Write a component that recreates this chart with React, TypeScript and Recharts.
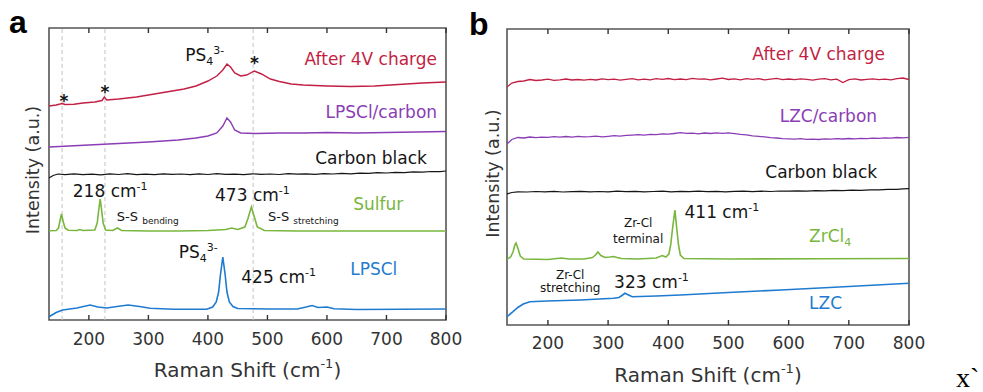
import React from "react";
import { LineChart, Line, XAxis, YAxis, ReferenceLine, ReferenceDot, ReferenceArea } from "recharts";

type Pt = [number, number];
type Note = {
  x: number;
  y: number;
  text: string;
  sub?: string;
  sup?: string;
  color: string;
  size?: number;
  subSize?: number;
  bold?: boolean;
  anchor?: "start" | "middle" | "end";
};

const RED = "#c21f45";
const PURPLE = "#8a3db5";
const INK = "#151515";
const GREEN = "#78b63e";
const BLUE = "#1f7bcf";
const BOX = "#555";

const TICKS = [200, 300, 400, 500, 600, 700, 800];
const DOMAIN_A: [number, number] = [133, 800];
const DOMAIN_B: [number, number] = [132, 800];
const DASH_A = [155, 227, 476];

// panel a – Raman spectra (a.u., stacked)
const A_CHARGED: Pt[] = [
  [133, 214], [145, 215], [155, 216.5], [160, 215.5], [175, 215.8], [190, 217], [210, 218], [222, 219.5],
  [226, 223], [230, 220], [250, 221], [280, 223], [300, 225], [330, 228], [360, 231], [380, 234],
  [400, 239], [415, 244], [425, 250], [432, 256], [438, 253], [445, 247], [455, 244], [465, 245],
  [478, 249], [490, 246], [505, 241], [520, 238.5], [540, 236], [560, 235], [600, 234], [640, 233.5],
  [680, 234], [720, 235.5], [760, 237], [800, 238],
];
const A_LPSCL_C: Pt[] = [
  [133, 173], [150, 173.5], [200, 175], [250, 176.5], [300, 178], [350, 180], [380, 182], [400, 184],
  [415, 187], [425, 194], [432, 202], [438, 198], [445, 190], [455, 187], [480, 186.5], [520, 187],
  [560, 187], [600, 187.5], [650, 187], [700, 187.5], [750, 188], [800, 188.5],
];
const A_CARBON: Pt[] = [
  [133, 142], [140, 144.5], [148, 146], [160, 145.3], [175, 146.2], [190, 145.4], [205, 145.9], [220, 145.2],
  [235, 146.1], [250, 145.5], [265, 146.3], [280, 145.4], [295, 145.9], [310, 145.3], [325, 146.2], [340, 145.6],
  [355, 146], [370, 145.3], [385, 146.1], [400, 145.5], [415, 146.3], [430, 145.6], [445, 145.9], [460, 145.4],
  [475, 146.2], [490, 145.7], [505, 146], [520, 145.5], [535, 146.3], [550, 145.8], [565, 146.1], [580, 145.6],
  [595, 146.3], [610, 146], [625, 146.6], [640, 146.2], [655, 146.9], [670, 146.7], [685, 147.3], [700, 147],
  [715, 147.6], [730, 147.4], [745, 148.1], [760, 147.9], [775, 148.5], [790, 148.4], [800, 149],
];
const A_SULFUR: Pt[] = [
  [133, 89.3], [145, 89.5], [149, 92], [151, 98], [154, 106], [157, 98], [160, 92], [165, 89.8],
  [180, 89.5], [185, 90.5], [190, 89.5], [210, 90], [214, 97], [217, 112], [219, 121], [221, 112],
  [224, 97], [228, 90], [240, 89.5], [248, 92], [255, 89.5], [300, 89], [350, 89], [400, 89.5],
  [430, 90.5], [440, 92], [450, 90.5], [462, 93], [467, 101], [473, 113], [478, 103], [483, 93],
  [495, 89.5], [550, 89], [650, 89], [800, 89],
];
const A_LPSCL: Pt[] = [
  [133, 3.3], [145, 7.5], [156, 10], [180, 12], [202, 15], [215, 13], [230, 12], [250, 13.8],
  [266, 15], [285, 13.5], [303, 11.7], [342, 10.7], [398, 10.7], [408, 13], [414, 18], [418, 28],
  [421, 45], [425, 63], [429, 45], [432, 28], [436, 18], [442, 13.5], [450, 11.5], [500, 11],
  [550, 11], [565, 13], [575, 14.5], [585, 12.5], [600, 13], [612, 11.3], [650, 10.5], [800, 11],
];

// panel b
const B_CHARGED: Pt[] = [
  [132, 238], [140, 242], [150, 243.5], [160, 244], [170, 245.5], [180, 244.5], [190, 245], [200, 245.8],
  [210, 244.6], [220, 245.2], [230, 246], [240, 245], [250, 245.5], [260, 244.8], [270, 245.6], [280, 245],
  [290, 246.2], [300, 245.3], [310, 245.8], [320, 244.9], [330, 245.7], [340, 246.3], [350, 245.2], [360, 245.9],
  [370, 245.1], [380, 246.4], [390, 245.6], [400, 246.5], [410, 245.4], [420, 246], [430, 245.3], [440, 246.6],
  [450, 245.8], [460, 246.2], [470, 245.1], [480, 246], [490, 246.8], [500, 245.5], [510, 246.1], [520, 245.2],
  [530, 246.3], [540, 245.7], [550, 246.4], [560, 245.1], [570, 245.9], [580, 246.6], [590, 245.4], [600, 246],
  [610, 245.3], [620, 246.2], [630, 245.6], [640, 244.9], [650, 245.8], [660, 246.3], [670, 245.2], [680, 245.9],
  [690, 242.5], [700, 245.4], [710, 246.1], [720, 245], [730, 245.7], [740, 246.2], [750, 245.4], [760, 245.9],
  [770, 245.1], [780, 246.3], [790, 247], [800, 245.5],
];
const B_LZC_C: Pt[] = [
  [132, 181], [140, 185.5], [150, 187.5], [160, 187], [170, 188], [180, 187.4], [190, 187.9], [200, 187.6],
  [210, 188.3], [220, 187.8], [230, 188.5], [240, 187.9], [250, 188.6], [260, 188.1], [270, 188.4], [280, 188.9],
  [290, 188.2], [300, 188.7], [310, 189.3], [320, 188.8], [330, 189.6], [340, 189.9], [350, 190.3], [360, 189.8],
  [370, 190.7], [380, 190.4], [390, 191.2], [400, 190.8], [410, 191.5], [420, 192.3], [430, 191.6], [440, 191.9],
  [450, 191.2], [460, 192], [470, 191.5], [480, 192.2], [490, 191.6], [500, 192.1], [510, 191.3], [520, 190.6],
  [530, 190.1], [540, 189.2], [550, 188.7], [560, 188.1], [570, 187.4], [580, 187], [590, 186.4], [600, 186.1],
  [610, 185.8], [620, 186.3], [630, 185.7], [640, 185.9], [650, 185.5], [660, 186.2], [670, 185.8], [680, 186.3],
  [690, 186], [700, 186.5], [710, 186.1], [720, 186.7], [730, 186.3], [740, 186.9], [750, 186.6], [760, 187.2],
  [770, 186.9], [780, 187.5], [790, 187.2], [800, 187.6],
];
const B_CARBON: Pt[] = [
  [132, 131], [140, 132.5], [150, 133.2], [165, 133], [180, 133.5], [195, 133.1], [210, 133.6], [225, 133],
  [240, 133.4], [255, 133.7], [270, 133.1], [285, 133.5], [300, 133.2], [315, 133.8], [330, 133.3], [345, 133.6],
  [360, 133.1], [375, 133.5], [390, 133.8], [405, 133.2], [420, 133.6], [435, 133.3], [450, 133.9], [465, 133.4],
  [480, 133.7], [495, 133.2], [510, 133.6], [525, 133.9], [540, 133.4], [555, 133.8], [570, 133.5], [585, 134],
  [600, 133.8], [615, 134.2], [630, 133.9], [645, 134.4], [660, 134.1], [675, 134.6], [690, 134.4], [705, 134.9],
  [720, 134.7], [735, 135.2], [750, 135.1], [765, 135.7], [780, 135.6], [790, 136.2], [800, 136.3],
];
const B_ZRCL4: Pt[] = [
  [132, 65.7], [138, 68], [142, 73], [145, 80], [147, 82], [150, 77], [154, 69], [160, 66],
  [200, 65.5], [215, 66.5], [222, 67], [235, 66], [260, 66], [274, 67.5], [279, 70], [283, 73],
  [288, 69.5], [295, 67.5], [303, 68], [309, 68.5], [315, 67.5], [322, 66.5], [350, 66], [380, 67],
  [390, 69.5], [396, 68], [401, 71], [404, 80], [407, 96], [411, 115], [414, 97], [417, 80],
  [420, 70], [426, 66.5], [500, 66], [650, 66.3], [800, 66.5],
];
const B_LZC: Pt[] = [
  [132, 8.3], [142, 13.3], [150, 17.5], [159, 21], [170, 23.3], [199, 24], [254, 25], [309, 26.7],
  [318, 27.5], [323, 29.5], [328, 31.7], [334, 30], [340, 28.3], [380, 29], [420, 30], [500, 32.5],
  [587, 35], [700, 38.5], [800, 41.7],
];

const A_NOTES: Note[] = [
  { x: 785, y: 255, text: "After 4V charge", color: RED, anchor: "end" },
  { x: 362, y: 259, text: "PS", sub: "4", sup: "3-", color: INK },
  { x: 158, y: 213, text: "*", color: INK, anchor: "middle", bold: true },
  { x: 227, y: 222, text: "*", color: INK, anchor: "middle", bold: true },
  { x: 478, y: 251, text: "*", color: INK, anchor: "middle", bold: true },
  { x: 785, y: 202, text: "LPSCl/carbon", color: PURPLE, anchor: "end" },
  { x: 768, y: 156, text: "Carbon black", color: INK, anchor: "end" },
  { x: 173, y: 123, text: "218 cm", sup: "-1", color: INK },
  { x: 412, y: 119, text: "473 cm", sup: "-1", color: INK },
  { x: 644, y: 110, text: "Sulfur", color: GREEN },
  { x: 247, y: 99, text: "S-S ", sub: "bending", color: INK, size: 13, subSize: 9 },
  { x: 501, y: 99, text: "S-S ", sub: "stretching", color: INK, size: 13, subSize: 9 },
  { x: 351, y: 62, text: "PS", sub: "4", sup: "3-", color: INK },
  { x: 456, y: 37, text: "425 cm", sup: "-1", color: INK },
  { x: 639, y: 45, text: "LPSCl", color: BLUE },
];

const B_NOTES: Note[] = [
  { x: 760, y: 265, text: "After 4V charge", color: RED, anchor: "end" },
  { x: 747, y: 203, text: "LZC/carbon", color: PURPLE, anchor: "end" },
  { x: 747, y: 147, text: "Carbon black", color: INK, anchor: "end" },
  { x: 427, y: 107, text: "411 cm", sup: "-1", color: INK },
  { x: 350, y: 98, text: "Zr-Cl", color: INK, size: 12, anchor: "middle" },
  { x: 350, y: 82, text: "terminal", color: INK, size: 12, anchor: "middle" },
  { x: 634, y: 83, text: "ZrCl", sub: "4", color: GREEN },
  { x: 237, y: 46, text: "Zr-Cl", color: INK, size: 12, anchor: "middle" },
  { x: 237, y: 33, text: "stretching", color: INK, size: 12, anchor: "middle" },
  { x: 310, y: 37, text: "323 cm", sup: "-1", color: INK },
  { x: 634, y: 16, text: "LZC", color: BLUE },
];

const toRows = (pts: Pt[]) => pts.map(([x, y]) => ({ x, y }));

function NoteText({ cx, cy, note }: { cx?: number; cy?: number; note: Note }) {
  const size = note.size ?? 17;
  const subSize = note.subSize ?? 11;
  const subDy = size * 0.22;
  const supRise = size * 0.42;
  return (
    <text
      x={cx}
      y={cy}
      fill={note.color}
      fontSize={size}
      fontWeight={note.bold ? "bold" : undefined}
      textAnchor={note.anchor ?? "start"}
    >
      <tspan>{note.text}</tspan>
      {note.sub && (
        <tspan fontSize={subSize} dy={subDy}>
          {note.sub}
        </tspan>
      )}
      {note.sup && (
        <tspan fontSize={11} dy={note.sub ? -(subDy + supRise) : -supRise}>
          {note.sup}
        </tspan>
      )}
    </text>
  );
}

function XTitle({ viewBox, dy }: any) {
  const { x, y, width } = viewBox;
  return (
    <text x={x + width / 2} y={y + dy} fill="#333" fontSize={20} textAnchor="middle">
      <tspan>Raman Shift (cm</tspan>
      <tspan fontSize={13} dy={-9}>-1</tspan>
      <tspan dy={9}>)</tspan>
    </text>
  );
}

function YTitle({ viewBox, dx, cy }: any) {
  const x = viewBox.x + dx;
  return (
    <text x={x} y={cy} fill="#333" fontSize={17.5} textAnchor="middle" transform={`rotate(-90 ${x} ${cy})`}>
      Intensity (a.u.)
    </text>
  );
}

const NoTick = () => <g />;

function Panel({
  left,
  width,
  margin,
  domain,
  yMax,
  series,
  notes,
  dashes,
  tickMargin,
  titleDy,
  yTitleDx,
  yTitleY,
}: {
  left: number;
  width: number;
  margin: { top: number; right: number; bottom: number; left: number };
  domain: [number, number];
  yMax: number;
  series: { pts: Pt[]; color: string; w: number }[];
  notes: Note[];
  dashes: number[];
  tickMargin: number;
  titleDy: number;
  yTitleDx: number;
  yTitleY: number;
}) {
  return (
    <div style={{ position: "absolute", left, top: 0 }}>
      <LineChart width={width} height={392} margin={margin}>
        <XAxis
          dataKey="x"
          type="number"
          domain={domain}
          ticks={TICKS}
          allowDataOverflow
          height={55}
          axisLine={false}
          tickSize={-5}
          tickMargin={tickMargin}
          tickLine={{ stroke: "#333", strokeWidth: 1.4 }}
          tick={{ fill: "#333", fontSize: 17 }}
          label={(p: any) => <XTitle {...p} dy={titleDy} />}
        />
        <XAxis
          xAxisId="top"
          orientation="top"
          dataKey="x"
          type="number"
          domain={domain}
          ticks={TICKS}
          allowDataOverflow
          height={1}
          axisLine={false}
          tickSize={-5}
          tickLine={{ stroke: "#333", strokeWidth: 1.4 }}
          tick={NoTick}
        />
        <YAxis
          type="number"
          domain={[0, yMax]}
          allowDataOverflow
          width={1}
          axisLine={false}
          tickLine={false}
          tick={false}
          label={(p: any) => <YTitle {...p} dx={yTitleDx} cy={yTitleY} />}
        />
        <ReferenceArea
          x1={domain[0]}
          x2={domain[1]}
          y1={0}
          y2={yMax}
          fill="none"
          stroke={BOX}
          strokeWidth={1.6}
          ifOverflow="extendDomain"
        />
        {dashes.map((d) => (
          <ReferenceLine key={d} x={d} stroke="#c4c4c4" strokeDasharray="4 3" strokeWidth={1} />
        ))}
        {series.map((s, i) => (
          <Line
            key={i}
            data={toRows(s.pts)}
            dataKey="y"
            type="linear"
            stroke={s.color}
            strokeWidth={s.w}
            dot={false}
            isAnimationActive={false}
          />
        ))}
        {notes.map((n, i) => (
          <ReferenceDot
            key={i}
            x={n.x}
            y={n.y}
            r={0}
            shape={(p: any) => <NoteText cx={p.cx} cy={p.cy} note={n} />}
          />
        ))}
      </LineChart>
    </div>
  );
}

export default function App() {
  return (
    <div
      style={{
        position: "absolute",
        left: 0,
        top: 0,
        width: 983,
        height: 392,
        overflow: "hidden",
        background: "#fff",
        fontFamily: "'DejaVu Sans', sans-serif",
      }}
    >
      <Panel
        left={0}
        width={466}
        margin={{ top: 27, right: 20, bottom: 17, left: 48 }}
        domain={DOMAIN_A}
        yMax={292}
        series={[
          { pts: A_CHARGED, color: RED, w: 1.4 },
          { pts: A_LPSCL_C, color: PURPLE, w: 1.4 },
          { pts: A_CARBON, color: INK, w: 1.2 },
          { pts: A_SULFUR, color: GREEN, w: 1.6 },
          { pts: A_LPSCL, color: BLUE, w: 1.6 },
        ]}
        notes={A_NOTES}
        dashes={DASH_A}
        tickMargin={18}
        titleDy={57}
        yTitleDx={-9}
        yTitleY={170}
      />
      <Panel
        left={466}
        width={466}
        margin={{ top: 28, right: 23, bottom: 12, left: 40 }}
        domain={DOMAIN_B}
        yMax={296}
        series={[
          { pts: B_CHARGED, color: RED, w: 1.3 },
          { pts: B_LZC_C, color: PURPLE, w: 1.3 },
          { pts: B_CARBON, color: INK, w: 1.2 },
          { pts: B_ZRCL4, color: GREEN, w: 1.6 },
          { pts: B_LZC, color: BLUE, w: 1.6 },
        ]}
        notes={B_NOTES}
        dashes={[]}
        tickMargin={16.5}
        titleDy={56.5}
        yTitleDx={-7}
        yTitleY={173.5}
      />
      <div style={{ position: "absolute", left: 9, top: 6, fontFamily: "'Liberation Sans', Arial", fontWeight: "bold", fontSize: 32, lineHeight: 1 }}>
        a
      </div>
      <div style={{ position: "absolute", left: 469, top: 8, fontFamily: "'Liberation Sans', Arial", fontWeight: "bold", fontSize: 32, lineHeight: 1 }}>
        b
      </div>
      <div style={{ position: "absolute", left: 956, top: 366, fontFamily: "'Liberation Serif', serif", fontSize: 28, lineHeight: "24px" }}>
        x`
      </div>
    </div>
  );
}
